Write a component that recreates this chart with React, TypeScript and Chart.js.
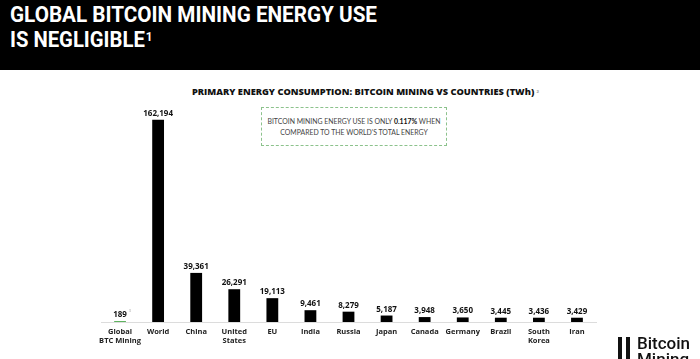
import React, { useEffect, useRef } from "react";
import { Chart, registerables } from "chart.js";

Chart.register(...registerables);

const categories: string[][] = [
  ["Global", "BTC Mining"],
  ["World"],
  ["China"],
  ["United", "States"],
  ["EU"],
  ["India"],
  ["Russia"],
  ["Japan"],
  ["Canada"],
  ["Germany"],
  ["Brazil"],
  ["South", "Korea"],
  ["Iran"],
];
const energyTWh: number[] = [189, 162194, 39361, 26291, 19113, 9461, 8279, 5187, 3948, 3650, 3445, 3436, 3429];
const barColors: string[] = ["#5fb35f", "#000", "#000", "#000", "#000", "#000", "#000", "#000", "#000", "#000", "#000", "#000", "#000"];
const yMax = 178000;

const FONT = "'Open Sans', Lato, sans-serif";

const labelsPlugin = {
  id: "customLabels",
  afterDatasetsDraw(chart: any) {
    const ctx = chart.ctx;
    const meta = chart.getDatasetMeta(0);
    const xScale = chart.scales.x;
    ctx.save();
    ctx.textAlign = "center";
    meta.data.forEach((bar: any, i: number) => {
      const v = energyTWh[i];
      ctx.font = `bold 8px ${FONT}`;
      ctx.fillStyle = "#111";
      ctx.textBaseline = "alphabetic";
      const txt = v.toLocaleString("en-US");
      ctx.fillText(txt, bar.x, bar.y - 4);
      if (i === 0) {
        const w = ctx.measureText(txt).width;
        ctx.font = `4px ${FONT}`;
        ctx.fillStyle = "#aaa";
        ctx.fillText("3", bar.x + w / 2 + 3, bar.y - 9);
      }
    });
    categories.forEach((lines, i) => {
      const x = xScale.getPixelForValue(i);
      ctx.font = `bold 7.5px ${FONT}`;
      ctx.fillStyle = "#222";
      ctx.textBaseline = "middle";
      lines.forEach((ln, j) => {
        ctx.fillText(ln, x, chart.chartArea.bottom + 10 + j * 8.5);
      });
    });
    ctx.restore();
  },
};

export default function App() {
  const canvasRef = useRef<HTMLCanvasElement | null>(null);
  const headRef = useRef<HTMLDivElement | null>(null);
  const titleRef = useRef<HTMLDivElement | null>(null);

  useEffect(() => {
    const fit = (el: HTMLElement | null, target: number) => {
      if (!el) return;
      const w = el.getBoundingClientRect().width;
      if (w > 0) {
        el.style.transformOrigin = "left top";
        el.style.transform = `scaleX(${target / w})`;
      }
    };
    fit(headRef.current, 367);
    fit(titleRef.current, 347);
  }, []);

  useEffect(() => {
    if (!canvasRef.current) return;
    const chart = new Chart(canvasRef.current, {
      type: "bar",
      data: {
        labels: categories.map((c) => c.join(" ")),
        datasets: [
          {
            data: energyTWh,
            backgroundColor: barColors,
            barPercentage: 0.31,
            categoryPercentage: 1,
            minBarLength: 1,
          },
        ],
      },
      options: {
        animation: false,
        responsive: false,
        maintainAspectRatio: false,
        layout: { padding: { left: 101, right: 104, top: 100, bottom: 37 } },
        plugins: { legend: { display: false }, tooltip: { enabled: false }, title: { display: false } },
        scales: {
          x: {
            display: true,
            grid: { display: false, drawTicks: false },
            border: { display: true, color: "#dcdcdc", width: 1 },
            ticks: { display: false },
          },
          y: {
            display: false,
            min: 0,
            max: yMax,
          },
        },
      },
      plugins: [labelsPlugin],
    });
    return () => chart.destroy();
  }, []);

  return (
    <div
      style={{
        position: "fixed",
        left: 0,
        top: 0,
        width: 700,
        height: 359,
        background: "#fff",
        overflow: "hidden",
        fontFamily: FONT,
      }}
    >
      <div style={{ position: "absolute", left: 0, top: 0, width: 700, height: 70, background: "#000" }} />
      <div
        style={{
          position: "absolute",
          left: 10,
          top: 2,
          color: "#fff",
          fontFamily: "Roboto, sans-serif",
          fontWeight: 700,
          fontSize: 22.5,
          lineHeight: "25px",
          whiteSpace: "nowrap",
        }}
      >
        <div ref={headRef} style={{ display: "inline-block" }}>GLOBAL BITCOIN MINING ENERGY USE</div>
        <div style={{ transform: "scaleX(0.9)", transformOrigin: "left top" }}>
          IS NEGLIGIBLE<span style={{ fontSize: 13, verticalAlign: "top", position: "relative", top: -3, marginLeft: 1 }}>1</span>
        </div>
      </div>
      <div
        ref={titleRef}
        style={{
          position: "absolute",
          left: 192,
          top: 86,
          fontSize: 8.5,
          fontWeight: 800,
          color: "#111",
          whiteSpace: "nowrap",
          lineHeight: "12px",
        }}
      >
        PRIMARY ENERGY CONSUMPTION: BITCOIN MINING VS COUNTRIES (TWh)
        <span style={{ fontSize: 4, color: "#aaa", verticalAlign: "top", marginLeft: 2 }}>2</span>
      </div>
      <div
        style={{
          position: "absolute",
          left: 261,
          top: 107,
          width: 184,
          height: 37,
          border: "1px dashed #8cc28c",
          display: "flex",
          flexDirection: "column",
          justifyContent: "center",
          alignItems: "center",
          fontSize: 6.9,
          fontFamily: "Lato, sans-serif",
          color: "#444",
          lineHeight: "11px",
          whiteSpace: "nowrap",
        }}
      >
        <div>
          BITCOIN MINING ENERGY USE IS ONLY <b style={{ color: "#111" }}>0.117%</b> WHEN
        </div>
        <div>COMPARED TO THE WORLD'S TOTAL ENERGY</div>
      </div>
      <canvas ref={canvasRef} width={700} height={359} style={{ position: "absolute", left: 0, top: 0 }} />
      <div style={{ position: "absolute", left: 618, top: 337, width: 4, height: 30, background: "#111" }} />
      <div style={{ position: "absolute", left: 626, top: 337, width: 4, height: 30, background: "#111" }} />
      <div
        style={{
          position: "absolute",
          left: 637,
          top: 335,
          fontSize: 17,
          fontWeight: 500,
          fontFamily: "Roboto, sans-serif",
          color: "#111",
          lineHeight: "16px",
          whiteSpace: "nowrap",
        }}
      >
        <div>Bitcoin</div>
        <div>Mining</div>
      </div>
    </div>
  );
}
